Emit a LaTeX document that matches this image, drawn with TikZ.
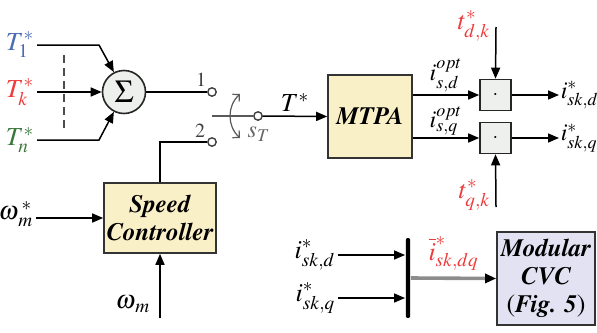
\documentclass[tikz,border=0pt]{standalone}
\usepackage[T1]{fontenc}
\usepackage{mathptmx}
\usetikzlibrary{arrows.meta}
\definecolor{t-blue}{HTML}{4A6CB4}
\definecolor{t-red}{HTML}{EE3B3B}
\definecolor{t-green}{HTML}{3B773B}
\definecolor{ctrl-yellow}{HTML}{FAF0C8}
\definecolor{cvc-lilac}{HTML}{E2E2F2}
\definecolor{op-grey}{HTML}{EEF0EE}

\begin{document}
\begin{tikzpicture}[
    x=0.5pt, y=-0.5pt,
    >={Triangle[length=5.5pt,width=4.5pt]},
    line width=0.75pt,
    lbl/.style={font=\fontsize{13}{15}\selectfont, inner sep=1pt},
    num/.style={font=\fontsize{10}{12}\selectfont, text=black!75, inner sep=1pt},
    ctrl/.style={draw=black!80, fill=ctrl-yellow, line width=0.8pt, align=center, inner sep=1pt, font=\fontsize{12.5}{14}\selectfont\bfseries\itshape},
    mult/.style={draw=black!85, fill=op-grey, line width=0.8pt, minimum size=15.5pt, inner sep=0pt},
    term/.style={circle, draw=black!75, fill=white, line width=0.7pt, minimum size=4.2pt, inner sep=0pt},
    bus/.style={draw=black!45, line width=1.8pt, -{Triangle[length=5.5pt,width=4.5pt,color=black]}}
]
\useasboundingbox (0,0) rectangle (597,332);

% torque references and sum
\node[lbl, anchor=east, text=t-blue] (t1) at (37,45) {$T_1^{*}$};
\node[lbl, anchor=east, text=t-red] (tk) at (37,92) {$T_k^{*}$};
\node[lbl, anchor=east, text=t-green] (tn) at (37,140) {$T_n^{*}$};
\node[circle, draw=black!85, fill=op-grey, line width=0.8pt, minimum size=21.5pt, inner sep=0pt, font=\fontsize{16}{17}\selectfont] (sum) at (124,92) {$\Sigma$};
\draw[->] (t1.east) -- ++(62,0) -- (sum.117);
\draw[->] (tk.east) -- (sum.west);
\draw[->] (tn.east) -- ++(62,0) -- (sum.243);
\draw[dashed, draw=black!70, line width=0.6pt, dash pattern=on 4pt off 2.5pt] (64,55) -- (64,128);

% selector switch
\node[term] (p1) at (212,92) {};
\node[term] (p2) at (212,142) {};
\node[term] (pc) at (258,116) {};
\coordinate (blade) at (212,116);
\node[num] at (201,80) {1};
\node[num] at (200,131) {2};
\draw (sum.east) -- (p1.west);
\draw[draw=black!65] (blade) -- (pc.west);
\draw[draw=black!65, line width=0.6pt, {Straight Barb[length=2.5pt]}-{Straight Barb[length=2.5pt]}] (240,94) .. controls (227,106) and (227,126) .. (240,138);
\node[lbl, text=black!60, font=\fontsize{12}{14}\selectfont] at (259,134) {$s_T$};

% MTPA and current splitting
\node[ctrl, minimum width=42pt, minimum height=41.5pt] (mtpa) at (370,116.5) {MTPA};
\draw[->] (pc.east) -- (mtpa.west) node[midway, above=1pt, lbl] {$T^{*}$};
\node[mult] (md) at (495.5,95) {$\cdot$};
\node[mult] (mq) at (495.5,138) {$\cdot$};
\draw[->] (mtpa.east |- md.west) -- (md.west) node[midway, above=0pt, lbl, font=\fontsize{12}{14}\selectfont] {$i_{s,d}^{opt}$};
\draw[->] (mtpa.east |- mq.west) -- (mq.west) node[midway, above=0pt, lbl, font=\fontsize{12}{14}\selectfont] {$i_{s,q}^{opt}$};
\node[lbl, anchor=west, inner sep=0.5pt, font=\fontsize{12}{14}\selectfont] (od) at (559,95) {$i_{sk,d}^{*}$};
\node[lbl, anchor=west, inner sep=0.5pt, font=\fontsize{12}{14}\selectfont] (oq) at (559,138) {$i_{sk,q}^{*}$};
\draw[->] (md.east) -- (od.west);
\draw[->] (mq.east) -- (oq.west);
\node[lbl, anchor=east, inner sep=0pt, text=t-red] (td) at (491,26) {$t_{d,k}^{*}$};
\node[lbl, anchor=east, inner sep=0pt, text=t-red] (tq) at (491,195) {$t_{q,k}^{*}$};
\coordinate (tdtop) at (496,27);
\coordinate (tqfoot) at (496,207);
\draw[->] (tdtop) -- (md.north);
\draw[->] (tqfoot) -- (mq.south);

% speed loop
\node[ctrl, minimum width=56pt, minimum height=35pt] (sc) at (160,218) {Speed\\Controller};
\draw (p2.west) -| (sc.north);
\node[lbl, anchor=east] (wref) at (36,214) {$\omega^{\kern1.5pt *}_{\kern1pt m}$};
\draw[->] (wref.east |- sc.west) -- (sc.west);
\node[lbl, anchor=east] (wm) at (153,304) {$\omega_{\kern1pt m}$};
\coordinate (wmfoot) at (160,318);
\draw[->] (wmfoot) -- (sc.south);

% modular CVC
\node[lbl, anchor=east] (isd) at (338,255) {$i_{sk,d}^{*}$};
\node[lbl, anchor=east] (isq) at (338,298) {$i_{sk,q}^{*}$};
\node[fill=black, rounded corners=1pt, minimum width=2.2pt, minimum height=40pt, inner sep=0pt] (mux) at (408,278) {};
\draw[->] (isd.east) -- (isd.east -| mux.west);
\draw[->] (isq.east) -- (isq.east -| mux.west);
\node[ctrl, fill=cvc-lilac, minimum width=49pt, minimum height=46.5pt] (cvc) at (546,278.5) {Modular\\CVC\\{\mdseries\upshape\fontsize{13}{13}\selectfont(}Fig. 5{\mdseries\upshape\fontsize{13}{13}\selectfont)}};
\draw[bus] (mux.east) -- (cvc.west) node[midway, above=2pt, lbl, text=t-red] {$\overline{i}^{*}_{sk,dq}$};
\end{tikzpicture}
\end{document}
